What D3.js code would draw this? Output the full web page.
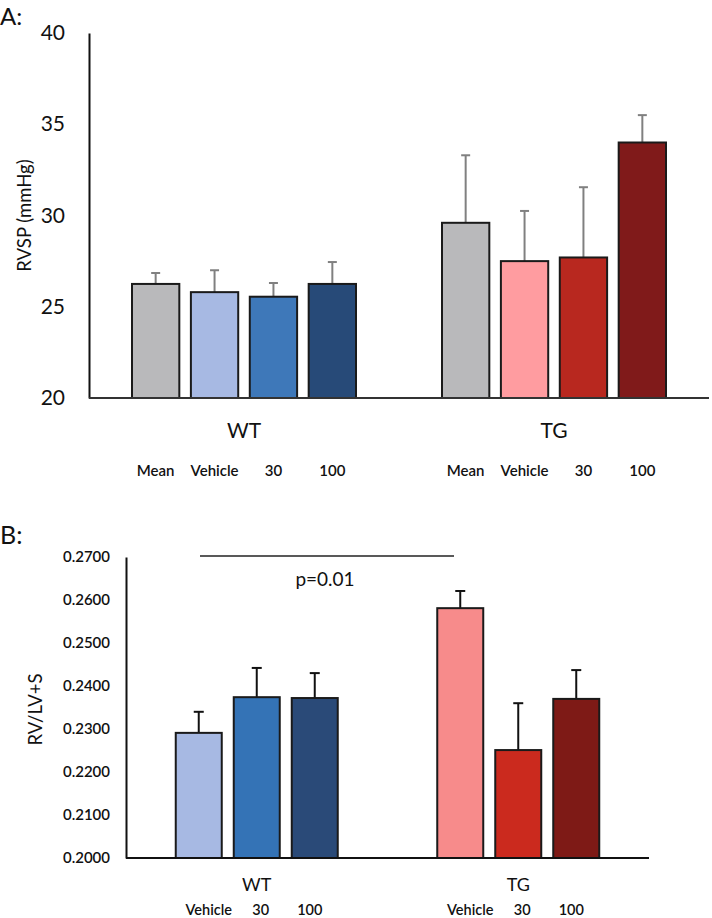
<!DOCTYPE html>
<html><head><meta charset="utf-8">
<script src="https://cdn.jsdelivr.net/npm/d3@7"></script>
<style>
body{margin:0;background:#fff;}
svg{display:block;}
text{font-family:Lato,"Open Sans",sans-serif;fill:#111;}
</style></head>
<body><svg id="chart" width="712" height="918"></svg>
<script>
// ---------- Panel A data ----------
const groupsA = ["WT", "TG"];
const seriesA = ["Mean", "Vehicle", "30", "100"];
const valuesA_WT = [26.25, 25.8, 25.55, 26.25];
const errorsA_WT = [0.6, 1.2, 0.75, 1.2];
const valuesA_TG = [29.6, 27.5, 27.7, 34.0];
const errorsA_TG = [3.7, 2.75, 3.85, 1.5];
const colorsA_WT = ["#b9b9bb", "#a7b9e3", "#3e78b9", "#274a78"];
const colorsA_TG = ["#b9b9bb", "#ff9ca0", "#b8281f", "#801a1a"];
const ticksA = [20, 25, 30, 35, 40];

// ---------- Panel B data ----------
const groupsB = ["WT", "TG"];
const seriesB = ["Vehicle", "30", "100"];
const valuesB_WT = [0.2291, 0.2374, 0.2372];
const errorsB_WT = [0.0049, 0.0068, 0.0058];
const valuesB_TG = [0.2581, 0.2251, 0.2370];
const errorsB_TG = [0.0040, 0.0109, 0.0067];
const colorsB_WT = ["#a7b9e3", "#3473b6", "#2a4a78"];
const colorsB_TG = ["#f78b8b", "#cb2a1e", "#7e1a16"];
const ticksB = [0.20, 0.21, 0.22, 0.23, 0.24, 0.25, 0.26, 0.27];
const pLabel = "p=0.01";

const svg = d3.select("#chart");

// ================= Panel A =================
{
  const left = 89, right = 709, top = 33, bottom = 398;
  const x = d3.scaleBand().domain(groupsA).range([left, right]);
  const xs = d3.scaleBand().domain(seriesA).range([0, 224]).paddingInner(11/56).paddingOuter(0);
  const y = d3.scaleLinear().domain([20, 40]).range([bottom, top]);
  const g = svg.append("g");

  svg.append("text").attr("x", 0).attr("y", 25).attr("font-size", 24).text("A:");

  const data = [];
  groupsA.forEach((grp, gi) => {
    const vals = gi === 0 ? valuesA_WT : valuesA_TG;
    const errs = gi === 0 ? errorsA_WT : errorsA_TG;
    const cols = gi === 0 ? colorsA_WT : colorsA_TG;
    seriesA.forEach((s, si) => data.push({grp, s, v: vals[si], e: errs[si], c: cols[si]}));
  });
  const gx = grp => x(grp) + x.bandwidth()/2 - 112;

  data.forEach(d => {
    const cx = gx(d.grp) + xs(d.s) + xs.bandwidth()/2;
    g.append("line").attr("x1", cx).attr("x2", cx).attr("y1", y(d.v)).attr("y2", y(d.v + d.e))
      .attr("stroke", "#808080").attr("stroke-width", 2);
    g.append("line").attr("x1", cx - 4.5).attr("x2", cx + 4.5).attr("y1", y(d.v + d.e)).attr("y2", y(d.v + d.e))
      .attr("stroke", "#808080").attr("stroke-width", 2);
  });
  data.forEach(d => {
    g.append("rect").attr("x", gx(d.grp) + xs(d.s)).attr("width", xs.bandwidth())
      .attr("y", y(d.v)).attr("height", y(20) - y(d.v))
      .attr("fill", d.c).attr("stroke", "#1a1a1a").attr("stroke-width", 2);
  });

  const ya = d3.axisLeft(y).tickValues(ticksA).tickSize(0).tickPadding(24);
  const yg = g.append("g").attr("transform", `translate(${left},0)`).call(ya);
  yg.select(".domain").attr("stroke", "#111").attr("stroke-width", 2);
  yg.selectAll("text").attr("font-size", 21).attr("font-family", "Lato, sans-serif").attr("fill", "#111");
  g.append("line").attr("x1", left).attr("x2", right).attr("y1", bottom).attr("y2", bottom)
    .attr("stroke", "#333").attr("stroke-width", 2);

  svg.append("text").attr("transform", `translate(31,${(top+bottom)/2}) rotate(-90)`)
    .attr("text-anchor", "middle").attr("font-size", 18.5).text("RVSP (mmHg)");

  groupsA.forEach(grp => {
    svg.append("text").attr("x", x(grp) + x.bandwidth()/2).attr("y", 438)
      .attr("text-anchor", "middle").attr("font-size", 21).text(grp);
    seriesA.forEach(s => {
      svg.append("text").attr("x", gx(grp) + xs(s) + xs.bandwidth()/2).attr("y", 476)
        .attr("text-anchor", "middle").attr("font-size", 15).attr("font-weight", 600).text(s);
    });
  });
}

// ================= Panel B =================
{
  const left = 126, right = 649, top = 557, bottom = 858;
  const x = d3.scaleBand().domain(groupsB).range([left, right]);
  const xs = d3.scaleBand().domain(seriesB).range([0, 162]).paddingInner(12/58).paddingOuter(0);
  const y = d3.scaleLinear().domain([0.20, 0.27]).range([bottom, top]);
  const g = svg.append("g");

  svg.append("text").attr("x", 0).attr("y", 544).attr("font-size", 25).text("B:");

  const data = [];
  groupsB.forEach((grp, gi) => {
    const vals = gi === 0 ? valuesB_WT : valuesB_TG;
    const errs = gi === 0 ? errorsB_WT : errorsB_TG;
    const cols = gi === 0 ? colorsB_WT : colorsB_TG;
    seriesB.forEach((s, si) => data.push({grp, s, v: vals[si], e: errs[si], c: cols[si]}));
  });
  const gx = grp => x(grp) + x.bandwidth()/2 - 81;

  data.forEach(d => {
    const cx = gx(d.grp) + xs(d.s) + xs.bandwidth()/2;
    g.append("line").attr("x1", cx).attr("x2", cx).attr("y1", y(d.v)).attr("y2", y(d.v + d.e))
      .attr("stroke", "#111").attr("stroke-width", 2);
    g.append("line").attr("x1", cx - 5).attr("x2", cx + 5).attr("y1", y(d.v + d.e)).attr("y2", y(d.v + d.e))
      .attr("stroke", "#111").attr("stroke-width", 2);
  });
  data.forEach(d => {
    g.append("rect").attr("x", gx(d.grp) + xs(d.s)).attr("width", xs.bandwidth())
      .attr("y", y(d.v)).attr("height", y(0.20) - y(d.v))
      .attr("fill", d.c).attr("stroke", "#1a1a1a").attr("stroke-width", 2);
  });

  const ya = d3.axisLeft(y).tickValues(ticksB).tickFormat(d3.format(".4f")).tickSize(0).tickPadding(16);
  const yg = g.append("g").attr("transform", `translate(${left},0)`).call(ya);
  yg.select(".domain").attr("stroke", "#111").attr("stroke-width", 2);
  yg.selectAll("text").attr("font-size", 15).attr("font-weight", 600).attr("font-family", "Lato, sans-serif").attr("fill", "#111");
  g.append("line").attr("x1", left).attr("x2", right).attr("y1", bottom).attr("y2", bottom)
    .attr("stroke", "#111").attr("stroke-width", 2);

  svg.append("text").attr("transform", `translate(42,${(top+bottom)/2 + 2}) rotate(-90)`)
    .attr("text-anchor", "middle").attr("font-size", 18.5).text("RV/LV+S");

  g.append("line").attr("x1", 200).attr("x2", 454).attr("y1", y(0.27) - 1).attr("y2", y(0.27) - 1)
    .attr("stroke", "#222").attr("stroke-width", 1.3);
  svg.append("text").attr("x", 325).attr("y", 586).attr("text-anchor", "middle")
    .attr("font-size", 19).attr("font-family", "Liberation Sans, Arial, sans-serif").text(pLabel);

  groupsB.forEach(grp => {
    svg.append("text").attr("x", x(grp) + x.bandwidth()/2).attr("y", 891)
      .attr("text-anchor", "middle").attr("font-size", 18).text(grp);
    seriesB.forEach((s, si) => {
      const off = [10, 4, -5][si];
      svg.append("text").attr("x", gx(grp) + xs(s) + xs.bandwidth()/2 + off).attr("y", 915)
        .attr("text-anchor", "middle").attr("font-size", 14.5).attr("font-weight", 600).text(s);
    });
  });
}
</script></body></html>
